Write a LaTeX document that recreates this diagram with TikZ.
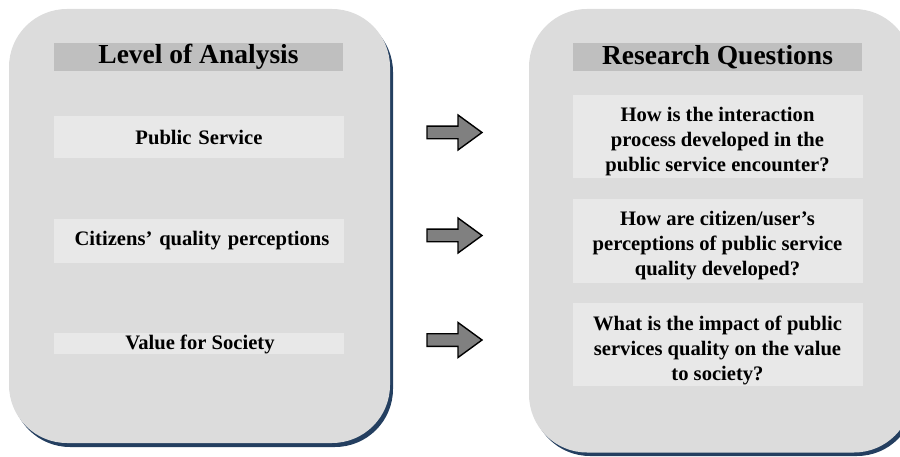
\documentclass[tikz,border=0pt]{standalone}
\usepackage{fontspec}
\setmainfont{Liberation Serif}
\definecolor{panelfill}{HTML}{DCDCDC}
\definecolor{headfill}{HTML}{BFBFBF}
\definecolor{itemfill}{HTML}{E8E8E8}
\definecolor{shadowblue}{HTML}{243F60}
\definecolor{arrowfill}{HTML}{808080}
\tikzset{
  panel/.style={fill=panelfill, rounded corners=58pt},
  panelshadow/.style={fill=shadowblue, rounded corners=58pt},
  headbox/.style={fill=headfill, inner sep=0pt, minimum width=289pt, minimum height=28pt, font=\fontsize{27.5}{30}\selectfont\bfseries},
  itembox/.style={fill=itemfill, inner sep=0pt, minimum width=290pt, align=center, text width=288pt, font=\fontsize{20.6}{25}\selectfont\bfseries},
  itemtext/.style={inner sep=0pt, align=center, font=\fontsize{20.6}{24.6}\selectfont\bfseries},
  blockarrow/.style={fill=arrowfill, draw=black, line width=1.4pt, line join=miter},
}
\begin{document}
\begin{tikzpicture}[x=1pt,y=-1pt]
\useasboundingbox (0,0) rectangle (900,457);
\clip (0,0) rectangle (900,457);
% left panel
\fill[panelshadow] (12,14) rectangle (393,447);
\fill[panel] (9,9) rectangle (390,443);
% right panel
\fill[panelshadow] (532,14) rectangle (915,456);
\fill[panel] (529,9) rectangle (912,452.5);
% headers
\node[headbox] (lh) at (198.5,57) {Level of Analysis};
\node[headbox] (rh) at (717.5,57) {Research Questions};
% left items
\node[itembox, minimum height=42pt] (l1) at (199,137) {Public Service};
\node[itembox, minimum height=44pt] (l2) at (199,241) {\hspace*{6pt}Citizens’ quality perceptions};
\node[itembox, minimum height=21pt] (l3) at (198.5,343.5) {};
\node[itemtext, anchor=base] (l3t) at (200,349.5) {Value for Society};
% right items
\node[itembox, minimum height=83pt] (r1) at (717.5,136.5) {};
\node[itembox, minimum height=84pt] (r2) at (717.5,241) {};
\node[itembox, minimum height=83pt] (r3) at (717.5,344.5) {};
\node[itemtext] (r1t) at (717.5,141.5) {How is the interaction\\process developed in the\\public service encounter?};
\node[itemtext] (r2t) at (717.5,245.5) {How are citizen/user’s\\perceptions of public service\\quality developed?};
\node[itemtext] (r3t) at (717.5,350.5) {What is the impact of public\\services quality on the value\\to society?};
% block arrows
\foreach \yy/\nm in {132.5/a1, 235.5/a2, 340/a3}{
  \begin{scope}[shift={(0,\yy)}]
    \coordinate (\nm) at (454,0);
    \draw[blockarrow] (427,-6.3) -- (458,-6.3) -- (458,-17.5) -- (482,0) -- (458,17.5) -- (458,6.3) -- (427,6.3) -- cycle;
  \end{scope}
}
\end{tikzpicture}
\end{document}
